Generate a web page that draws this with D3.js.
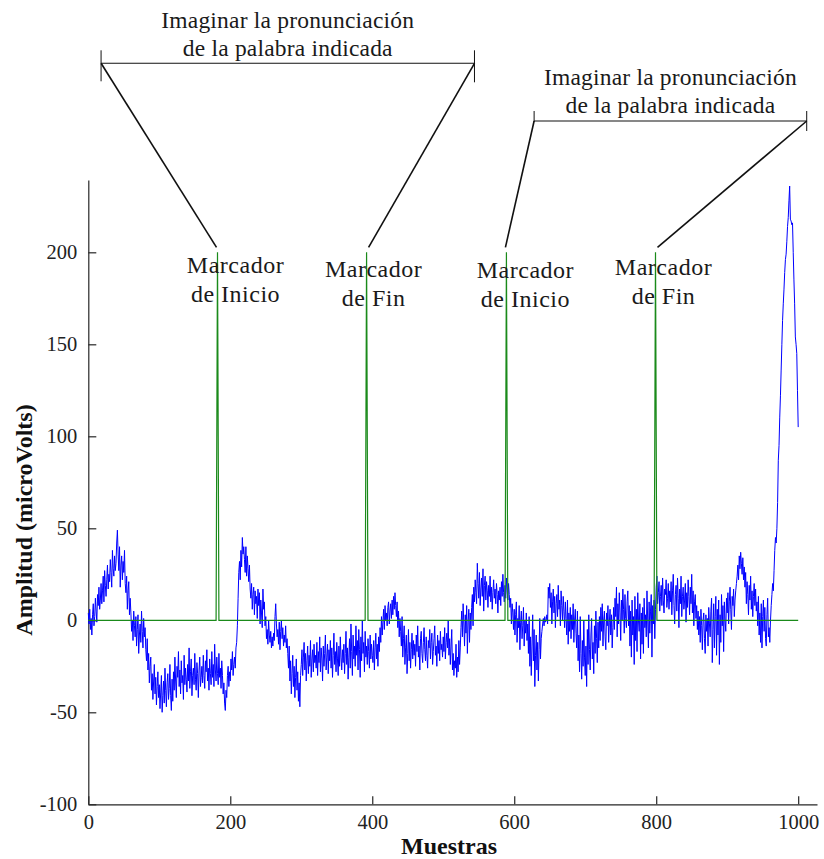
<!DOCTYPE html>
<html>
<head>
<meta charset="utf-8">
<script src="https://cdn.jsdelivr.net/npm/d3@7"></script>
<style>
  html, body { margin: 0; padding: 0; background: #fff; }
  svg { display: block; }
  text { font-family: "Liberation Serif", "Times New Roman", serif; }
</style>
</head>
<body>
<svg id="chart" width="824" height="859"></svg>
<script>
// Axis ticks
const xTicks = [0, 200, 400, 600, 800, 1000];
const yTicks = [-100, -50, 0, 50, 100, 150, 200];

// EEG amplitude per sample (microVolts), samples 0..1000
const amplitude = [
  4, -2, 6, -5, 1, -8, 3, 9, -3, 2, 12, 5, -1, 14, 8, 18, 6, 11, 20, 9,
  16, 24, 10, 27, 19, 13, 22, 30, 17, 25, 21, 33, 26, 18, 38, 28, 24, 35, 27, 31,
  42, 49, 36, 27, 40, 18, 30, 35, 22, 32, 26, 38, 20, 15, 24, 6, 16, 21, 3, 12,
  4, -6, 0, -11, 5, -3, -9, 2, -14, -5, 3, -18, -8, -2, -12, 5, -6, -15, 1, -9,
  -4, -16, -22, -10, -27, -18, -34, -25, -20, -38, -29, -43, -33, -24, -40, -31, -46, -36, -28, -42,
  -35, -48, -39, -30, -50, -41, -33, -45, -26, -38, -47, -34, -29, -43, -37, -24, -41, -49, -32, -44,
  -28, -38, -20, -33, -42, -25, -31, -17, -36, -27, -40, -22, -34, -30, -43, -19, -35, -26, -32, -39,
  -24, -33, -15, -37, -28, -21, -41, -30, -26, -35, -18, -32, -38, -23, -29, -42, -27, -20, -36, -31,
  -25, -34, -19, -30, -37, -22, -28, -16, -33, -26, -38, -21, -29, -35, -17, -31, -24, -36, -13, -27,
  -33, -20, -29, -35, -18, -31, -26, -37, -22, -30, -40, -34, -45, -49, -38, -42, -30, -25, -36, -28,
  -33, -21, -27, -17, -30, -24, -20, -26, -15, -12, -3, 12, 26, 32, 22, 38, 29, 45, 36, 40,
  33, 26, 40, 24, 35, 28, 21, 30, 17, 12, 20, 6, 14, 18, 3, 16, 9, 13, 1, 17,
  8, 15, -2, 11, 4, -4, 17, 6, 10, -3, 2, -10, -5, -13, 0, -8, -12, -6, -15, -9,
  -14, -7, -11, 2, 9, -2, -9, -5, -13, -1, -16, -6, 0, -10, -4, -14, -8, -12, -3, -15,
  -10, -18, -26, -14, -33, -22, -40, -29, -19, -36, -25, -42, -31, -21, -38, -28, -44, -34, -47, -30,
  -24, -16, -30, -20, -12, -27, -18, -33, -22, -14, -29, -19, -25, -11, -31, -21, -16, -28, -13, -23,
  -19, -26, -12, -30, -17, -23, -9, -28, -15, -21, -33, -14, -25, -18, -8, -27, -20, -13, -29, -16,
  -22, -11, -26, -15, -31, -19, -7, -24, -17, -28, -12, -21, -30, -14, -25, -9, -20, -27, -16, -23,
  -13, -29, -18, -6, -24, -15, -32, -20, -10, -26, -2, -17, -30, -8, -21, -14, -25, -3, -19, -11,
  -27, -5, -16, -31, -9, -22, 0, -18, -12, -28, -6, -20, -14, -24, -10, -17, -26, -8, -21, -13,
  -19, -23, -11, -27, -15, -7, -21, -13, -25, -9, -17, -4, -12, 2, -8, -1, 6, -5, 8, 0,
  4, -3, 7, 10, -2, 5, 9, 1, 11, 3, 13, 6, 15, 8, 2, 10, -4, 5, -9, 1,
  -6, -14, 2, -20, -10, -3, -24, -15, -8, -29, -18, -5, -22, -12, -26, -16, -7, -21, -11, -19,
  -13, -25, -8, -17, -3, -20, -14, -27, -10, -6, -18, -23, -12, -4, -16, -22, -9, -19, -26, -11,
  -15, -5, -21, -12, -7, -24, -17, -10, -3, -19, -14, -25, -8, -18, -11, -22, -6, -16, -13, -20,
  -9, -17, -4, -21, -12, -7, -15, 0, -19, -10, -24, -14, -5, -27, -18, -30, -22, -26, -13, -31,
  -20, -28, -11, -24, -15, -4, 5, -9, 9, -2, -14, 3, -7, 8, -18, -1, 6, -12, 4, -5,
  7, 14, -3, 18, 10, 22, 15, 9, 31, 20, 12, 26, 8, 17, 23, 13, 28, 5, 19, 24,
  11, 21, 16, 7, 19, 13, 24, 10, 18, 6, 15, 22, 12, 17, 9, 20, 14, 4, 16, 11,
  18, 8, 21, 13, 25, 15, 10, 19, 12, 23, 16, 11, 20, 14, 7, 12, -2, 9, 4, -5,
  6, -8, 3, 10, -12, 1, -4, 8, -16, -1, 5, -10, -3, 7, -14, 0, -7, 4, -11, -2,
  -18, 2, -25, -9, -30, -14, 3, -22, -5, -36, -19, -8, -27, -12, -33, -16, 1, -21, -10, -6,
  -2, 1, -3, 2, -1, 0, 3, -2, 18, 12, 20, 7, 15, -2, 10, 17, 4, 13, -4, 9,
  14, 2, 19, 6, 11, -3, 16, 8, 0, 13, 5, -4, 10, 1, -8, 11, -13, 4, -6, 7,
  -10, 3, -5, 9, -12, 0, 6, -7, -15, 5, -22, -8, -28, 2, -18, -32, -11, -25, 0, -20,
  -30, -14, -36, -5, -24, 3, -16, -27, -8, 1, -21, -12, -29, -3, -18, 5, -10, -23, -1, -15,
  2, -11, 7, -6, 9, -14, 0, 5, -9, -16, 4, -3, 8, -12, -1, 6, -8, 3, -15, -4,
  7, -5, 12, 2, 18, -9, 9, -2, 15, 4, -11, 11, 0, 17, 6, -7, 14, 1, -4, 10,
  16, -3, 8, -14, 5, -20, 11, -8, 2, -24, 13, -11, 6, -17, 15, 0, -6, 9, -21, 4,
  -13, 7, -18, 12, -4, 3, -9, 16, 0, -15, 10, -7, 5, 14, -20, 8, -2, 11, -10, 6,
  18, 24, 9, 15, 21, 5, 13, 19, 8, 23, 11, 4, 17, 14, 22, 7, 12, 20, 6, 16,
  10, 21, 3, 16, 25, 8, -2, 14, 19, 5, 23, 12, -4, 17, 9, 24, 2, 13, 18, 6,
  11, 20, -1, 15, 7, 22, 13, 3, 18, 9, 25, 4, 16, -3, 10, 14, 1, 8, -5, 5,
  -8, 2, -12, 6, -3, -16, 0, 4, -10, -18, 3, -6, 1, -14, 7, -2, -9, 5, 12, -23,
  -5, 9, -15, 2, 13, -19, 6, -8, 11, -24, 3, -12, 14, -3, 8, -17, 10, 0, -6, 12,
  4, 15, -2, 10, 18, 6, -5, 13, 8, 17, 2, 11, 16, 20, 24, 30, 22, 35, 28, 37,
  31, 25, 34, 22, 29, 18, 26, 9, 21, 14, 3, 19, 11, 24, 6, 16, 2, 13, 20, 8,
  17, 5, 10, -3, 13, -8, 4, -12, 9, -15, 2, 11, -6, 7, -10, -14, 3, 12, -9, -4,
  -12, 0, 8, 14, 20, 16, 27, 38, 45, 42, 50, 64, 87, 95, 110, 122, 136, 150, 163, 172,
  180, 189, 196, 199, 206, 214, 219, 228, 236, 218, 217, 215, 216, 200, 185, 172, 154, 150, 145, 125,
  105
];

// Event markers: sample index of each pulse peak and the pulse shape
const markerSamples = [182, 392, 589, 799];
const markerPulse = [100, 200, 100];
const markerLabels = [
  ["Marcador", "de Inicio"],
  ["Marcador", "de Fin"],
  ["Marcador", "de Inicio"],
  ["Marcador", "de Fin"]
];
const taskText = ["Imaginar la pronunciación", "de la palabra indicada"];

// Marker channel: zero baseline with a short pulse at each marker
const markerTrace = amplitude.map(() => 0);
markerSamples.forEach(s => {
  markerPulse.forEach((v, i) => { markerTrace[s - 1 + i] = v; });
});

const svg = d3.select("#chart");

const x = d3.scaleLinear().domain([0, 1026.5]).range([88.3, 817]);
const y = d3.scaleLinear().domain([-100, 239.3]).range([804.3, 180]);

const axisColor = "#262626";
const plainNumber = d => String(d);

// Axes with inward ticks
const xAxis = d3.axisBottom(x).tickValues(xTicks).tickFormat(plainNumber)
  .tickSizeInner(-8).tickSizeOuter(0).tickPadding(10);
const yAxis = d3.axisLeft(y).tickValues(yTicks).tickFormat(plainNumber)
  .tickSizeInner(-8).tickSizeOuter(0).tickPadding(11);

const gx = svg.append("g").attr("transform", `translate(0,${y(-100)})`).call(xAxis);
const gy = svg.append("g").attr("transform", `translate(${x(0)},0)`).call(yAxis);
[gx, gy].forEach(g => {
  g.select(".domain").attr("stroke", axisColor).attr("stroke-width", 1.2);
  g.selectAll(".tick line").attr("stroke", axisColor).attr("stroke-width", 1.2);
  g.selectAll(".tick text")
    .attr("fill", "#222")
    .style("font-family", '"Liberation Serif", serif')
    .style("font-size", "20.5px");
});

// Signal trace
const line = d3.line()
  .x((d, i) => x(i))
  .y(d => y(d));

svg.append("path")
  .datum(amplitude)
  .attr("fill", "none")
  .attr("stroke", "#0000ff")
  .attr("stroke-width", 1)
  .attr("stroke-linejoin", "round")
  .attr("d", line);

// Marker trace on top
svg.append("path")
  .datum(markerTrace)
  .attr("fill", "none")
  .attr("stroke", "#1a8a1a")
  .attr("stroke-width", 1.2)
  .attr("d", line);

// Axis titles
svg.append("text")
  .attr("x", 449)
  .attr("y", 854)
  .attr("text-anchor", "middle")
  .attr("font-weight", "bold")
  .attr("font-size", "24px")
  .attr("fill", "#111")
  .text("Muestras");

svg.append("text")
  .attr("transform", "translate(31.5,520) rotate(-90)")
  .attr("text-anchor", "middle")
  .attr("font-weight", "bold")
  .attr("font-size", "24px")
  .attr("fill", "#111")
  .text("Amplitud (microVolts)");

// Marker captions
const captionDx = [18, 7, 19, 8];
const captionY = [273, 277, 278, 275];
markerSamples.forEach((s, i) => {
  const t = svg.append("text")
    .attr("text-anchor", "middle")
    .attr("font-size", "24px")
    .attr("letter-spacing", "0.5px")
    .attr("fill", "#1a1a1a");
  markerLabels[i].forEach((ln, j) => {
    t.append("tspan")
      .attr("x", x(s) + captionDx[i])
      .attr("y", captionY[i] + j * 29)
      .text(ln);
  });
});

// Task brackets spanning each start/end pair
const ink = "#111";
const brackets = [
  { x0: x(18), x1: x(544), yb: 63.3, tickUp0: 13, tickDn0: 18, tickUp1: 13, tickDn1: 19, textY: 28.3, pair: [0, 1] },
  { x0: x(628), x1: x(1012), yb: 121, tickUp0: 10, tickDn0: 1, tickUp1: 10, tickDn1: 10, textY: 85, pair: [2, 3] }
];
brackets.forEach(b => {
  svg.append("line").attr("x1", b.x0).attr("x2", b.x1).attr("y1", b.yb).attr("y2", b.yb)
    .attr("stroke", ink).attr("stroke-width", 1.1);
  svg.append("line").attr("x1", b.x0).attr("x2", b.x0).attr("y1", b.yb - b.tickUp0).attr("y2", b.yb + b.tickDn0)
    .attr("stroke", ink).attr("stroke-width", 1);
  svg.append("line").attr("x1", b.x1).attr("x2", b.x1).attr("y1", b.yb - b.tickUp1).attr("y2", b.yb + b.tickDn1)
    .attr("stroke", ink).attr("stroke-width", 1);
  // pointers down to the top of each marker pulse
  const s0 = markerSamples[b.pair[0]], s1 = markerSamples[b.pair[1]];
  svg.append("line").attr("x1", b.x0).attr("y1", b.yb).attr("x2", x(s0) - 1).attr("y2", y(200) - 5)
    .attr("stroke", ink).attr("stroke-width", 1.6);
  svg.append("line").attr("x1", b.x1).attr("y1", b.yb).attr("x2", x(s1) + 2).attr("y2", y(200) - 5)
    .attr("stroke", ink).attr("stroke-width", 1.6);
  const t = svg.append("text")
    .attr("text-anchor", "middle")
    .attr("font-size", "23.5px")
    .attr("letter-spacing", "0.2px")
    .attr("fill", "#1a1a1a");
  taskText.forEach((ln, j) => {
    t.append("tspan")
      .attr("x", (b.x0 + b.x1) / 2)
      .attr("y", b.textY + j * 27.5)
      .text(ln);
  });
});
</script>
</body>
</html>
